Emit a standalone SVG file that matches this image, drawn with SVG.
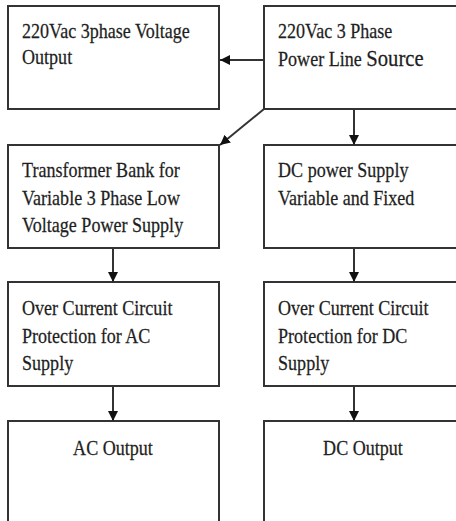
<svg xmlns="http://www.w3.org/2000/svg" width="456" height="521" viewBox="0 0 456 521">
<defs>
<marker id="ah" viewBox="0 0 10 10" refX="10" refY="5" markerWidth="10" markerHeight="10" markerUnits="userSpaceOnUse" orient="auto">
<path d="M0,0 L10,5 L0,10 z" fill="#111"/>
</marker>
<style>
.box{fill:#fff;stroke:#333;stroke-width:2}
.t{font-family:"Liberation Serif","Times New Roman",serif;font-size:21px;fill:#1e1e1e;stroke:#1e1e1e;stroke-width:0.25}
.c{stroke:#333;stroke-width:2;fill:none;marker-end:url(#ah)}
</style>
</defs>
<rect width="456" height="521" fill="#fff"/>
<g id="n1"><rect class="box" x="8" y="6" width="211" height="103"/>
<g transform="scale(0.86 1)"><text class="t" x="25.6" y="38">220Vac 3phase Voltage</text><text class="t" x="25.6" y="64">Output</text></g></g>
<g id="n2"><rect class="box" x="264" y="6" width="211" height="103"/>
<g transform="scale(0.86 1)"><text class="t" x="323.3" y="38">220Vac 3 Phase</text><text class="t" x="323.3" y="66">Power Line <tspan font-size="24">Source</tspan></text></g></g>
<g id="n3"><rect class="box" x="8" y="145" width="211" height="103"/>
<g transform="scale(0.86 1)"><text class="t" x="25.6" y="177">Transformer Bank for</text><text class="t" x="25.6" y="205">Variable 3 Phase Low</text><text class="t" x="25.6" y="232">Voltage Power Supply</text></g></g>
<g id="n4"><rect class="box" x="264" y="145" width="211" height="103"/>
<g transform="scale(0.86 1)"><text class="t" x="323.3" y="177">DC power Supply</text><text class="t" x="323.3" y="205">Variable and Fixed</text></g></g>
<g id="n5"><rect class="box" x="8" y="282" width="211" height="104"/>
<g transform="scale(0.86 1)"><text class="t" x="25.6" y="315">Over Current Circuit</text><text class="t" x="25.6" y="343">Protection for AC</text><text class="t" x="25.6" y="370">Supply</text></g></g>
<g id="n6"><rect class="box" x="264" y="282" width="211" height="104"/>
<g transform="scale(0.86 1)"><text class="t" x="323.3" y="315">Over Current Circuit</text><text class="t" x="323.3" y="343">Protection for DC</text><text class="t" x="323.3" y="370">Supply</text></g></g>
<g id="n7"><rect class="box" x="8" y="421" width="211" height="120"/>
<g transform="scale(0.86 1)"><text class="t" x="131.4" y="455" text-anchor="middle">AC Output</text></g></g>
<g id="n8"><rect class="box" x="264" y="421" width="211" height="120"/>
<g transform="scale(0.86 1)"><text class="t" x="422.1" y="455" text-anchor="middle">DC Output</text></g></g>
<g id="connectors">
<line class="c" x1="264" y1="60" x2="220" y2="60"/>
<line class="c" x1="264" y1="109" x2="220" y2="145"/>
<line class="c" x1="354" y1="109" x2="354" y2="145"/>
<line class="c" x1="113" y1="248" x2="113" y2="282"/>
<line class="c" x1="354" y1="248" x2="354" y2="282"/>
<line class="c" x1="113" y1="386" x2="113" y2="421"/>
<line class="c" x1="354" y1="386" x2="354" y2="421"/>
</g>
</svg>
